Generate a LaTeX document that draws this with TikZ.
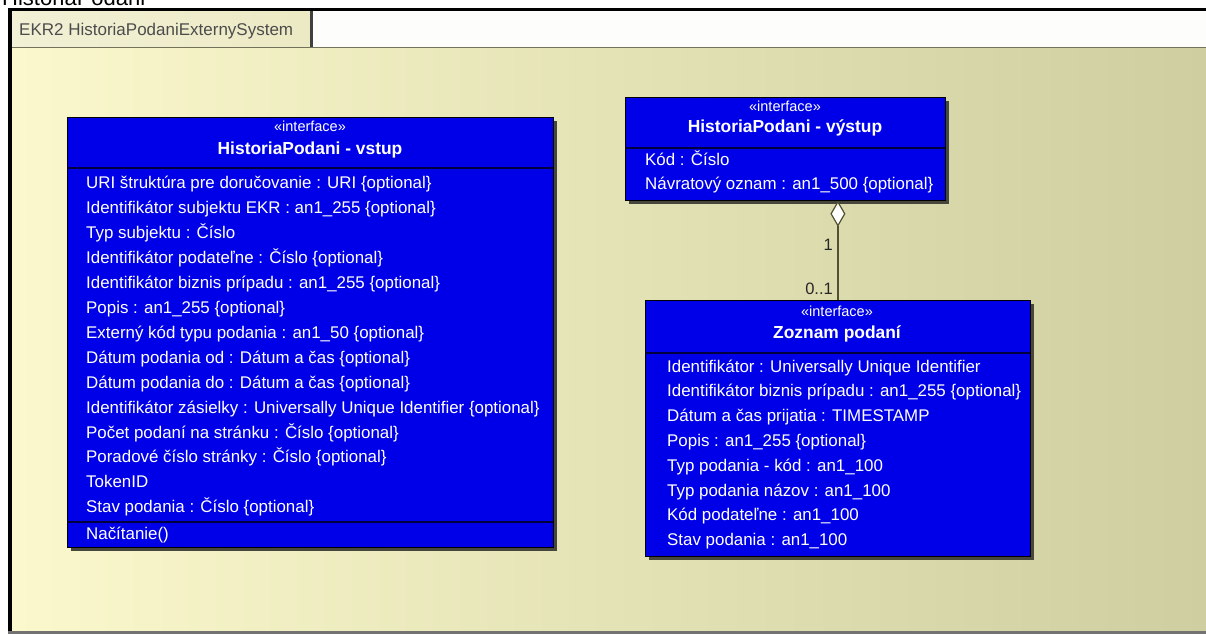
\documentclass[tikz,border=0pt]{standalone}
\usepackage{fontspec}
\setmainfont{Liberation Sans}
\usetikzlibrary{arrows.meta,shadows}
\definecolor{bgL}{RGB}{250,248,204}
\definecolor{bgR}{RGB}{206,206,160}
\definecolor{umlblue}{RGB}{0,0,232}
\definecolor{tabc}{RGB}{236,234,196}
\definecolor{olivec}{RGB}{80,80,50}
\definecolor{shadowc}{RGB}{70,70,60}
\tikzset{
 umlbox/.style={draw=black, line width=0.8pt, fill=umlblue, anchor=north west, inner sep=0pt,
   drop shadow={shadow xshift=4pt, shadow yshift=-4pt, fill=shadowc, opacity=1}},
 sepline/.style={draw=black!75!blue, line width=1.6pt},
 stereo/.style={text=white, font=\fontsize{14.5}{15}\selectfont, anchor=base, inner sep=0pt},
 cname/.style={text=white, font=\bfseries\fontsize{17.4}{18}\selectfont, anchor=base, inner sep=0pt},
 attr/.style={text=white, font=\fontsize{16.9}{18}\selectfont, anchor=base west, inner sep=0pt},
 mult/.style={text=black!85, font=\fontsize{16.5}{17}\selectfont, inner sep=0pt, anchor=base east},
}
\begin{document}
\begin{tikzpicture}[x=1pt,y=-1pt]
\clip (0,0) rectangle (1206,636);
\fill[white] (0,0) rectangle (1206,636);
\node[anchor=base west, inner sep=0pt, font=\fontsize{22}{22}\selectfont] (pagetitle) at (2,6) {HistoriaPodani};
% background
\shade[left color=bgL, right color=bgR] (12,47) rectangle (1206,632);
% tab strip
\fill[white!97!bgR] (12,11) rectangle (1206,47);
\shade[left color=tabc!70!white, right color=tabc] (12,11) rectangle (310,47);
\draw[black!75, line width=3pt] (311,11) -- (311,47);
\draw[olivec!80, line width=1.2pt] (12,47.5) -- (1206,47.5);
\node[anchor=base west, inner sep=0pt, text=black!70, font=\fontsize{17}{17}\selectfont] (tabtitle) at (19,36) {EKR2 HistoriaPodaniExternySystem};
% frame
\fill[black] (8,8) rectangle (1206,11.5);
\fill[black] (8,8) rectangle (12,633);
\fill[black!55] (8,631) rectangle (1206,634);

% left box
\node[umlbox, minimum width=486pt, minimum height=430pt] (vstup) at (67,117) {};
\draw[sepline] (67,168) -- (553,168);
\draw[sepline] (67,522) -- (553,522);
\node[stereo] (vstup-st) at (310,132) {«interface»};
\node[cname] (vstup-nm) at (310,155) {HistoriaPodani - vstup};
\foreach \t [count=\i from 0] in {
 {URI štruktúra pre doručovanie : URI \{optional\}},
 {Identifikátor subjektu EKR : an1\_255 \{optional\}},
 {Typ subjektu : Číslo},
 {Identifikátor podateľne : Číslo \{optional\}},
 {Identifikátor biznis prípadu : an1\_255 \{optional\}},
 {Popis : an1\_255 \{optional\}},
 {Externý kód typu podania : an1\_50 \{optional\}},
 {Dátum podania od : Dátum a čas \{optional\}},
 {Dátum podania do : Dátum a čas \{optional\}},
 {Identifikátor zásielky : Universally Unique Identifier \{optional\}},
 {Počet podaní na stránku : Číslo \{optional\}},
 {Poradové číslo stránky : Číslo \{optional\}},
 {TokenID},
 {Stav podania : Číslo \{optional\}}}
 \node[attr] (vstup-a\i) at (86,189+24.9*\i) {\t};
\node[attr] (vstup-op) at (86,539) {Načítanie()};

% right top box
\node[umlbox, minimum width=320pt, minimum height=103pt] (vystup) at (625,97) {};
\draw[sepline] (625,148) -- (945,148);
\node[stereo] (vystup-st) at (785,112) {«interface»};
\node[cname] (vystup-nm) at (785,133) {HistoriaPodani - výstup};
\node[attr] (vystup-a0) at (645,166) {Kód : Číslo};
\node[attr] (vystup-a1) at (645,190) {Návratový oznam : an1\_500 \{optional\}};

% right bottom box
\node[umlbox, minimum width=385pt, minimum height=256pt] (zoznam) at (645,300) {};
\draw[sepline] (645,353) -- (1030,353);
\node[stereo] (zoznam-st) at (837,316) {«interface»};
\node[cname] (zoznam-nm) at (837,338) {Zoznam podaní};
\foreach \t [count=\i from 0] in {
 {Identifikátor : Universally Unique Identifier},
 {Identifikátor biznis prípadu : an1\_255 \{optional\}},
 {Dátum a čas prijatia : TIMESTAMP},
 {Popis : an1\_255 \{optional\}},
 {Typ podania - kód : an1\_100},
 {Typ podania názov : an1\_100},
 {Kód podateľne : an1\_100},
 {Stav podania : an1\_100}}
 \node[attr] (zoznam-a\i) at (667,372+24.8*\i) {\t};

% aggregation
\draw[olivec, line width=1.2pt, {Diamond[fill=white, width=15pt, length=26pt]}-]
  (vystup.south -| zoznam.north) -- (zoznam.north);
\node[mult] (m1) at (833,251) {1};
\node[mult] (m2) at (833,294) {0..1};
\end{tikzpicture}
\end{document}
